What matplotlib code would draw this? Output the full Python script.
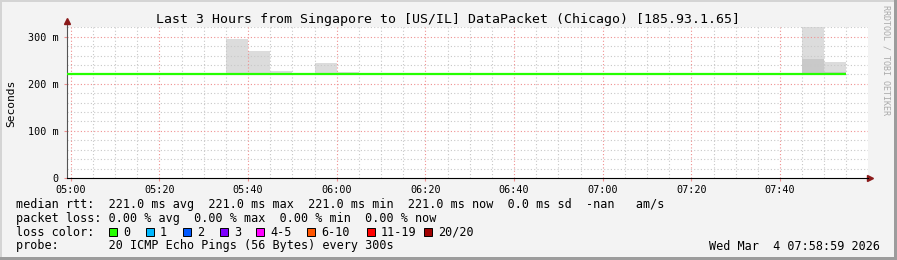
import numpy as np
import matplotlib
matplotlib.use('Agg')
from matplotlib import pyplot as plt
from matplotlib.patches import Rectangle

# time in minutes relative to 05:00
t_start = -0.9
t_end = 179.85
median_end = 175
median_rtt = 221.0

# smoke steps (5 min wide)
smoke_start = [35, 40, 45, 50, 55, 60, 90, 165, 170]
smoke_max = [296, 270, 228, 223, 244, 226, 224, 330, 247]
smoke_mid = [221, 221, 221, 221, 221, 221, 221, 253, 226]

xtick_pos = [0, 20, 40, 60, 80, 100, 120, 140, 160]
xtick_labels = ['05:00', '05:20', '05:40', '06:00', '06:20', '06:40', '07:00', '07:20', '07:40']
ytick_pos = [0, 100, 200, 300]
ytick_labels = ['0', '100 m', '200 m', '300 m']

loss_labels = ['0', '1', '2', '3', '4-5', '6-10', '11-19', '20/20']
loss_colors = ['#26ff00', '#00b8ff', '#0059ff', '#7e00ff', '#ff00ff', '#ff5500', '#ff0000', '#a00000']
loss_box_x = [109, 145.7, 182.7, 220, 256, 307, 366.7, 424]

line_rtt = 'median rtt:  221.0 ms avg  221.0 ms max  221.0 ms min  221.0 ms now  0.0 ms sd  -nan   am/s'
line_loss = 'packet loss: 0.00 % avg  0.00 % max  0.00 % min  0.00 % now'
line_probe = 'probe:       20 ICMP Echo Pings (56 Bytes) every 300s'
date_str = 'Wed Mar  4 07:58:59 2026'
title = 'Last 3 Hours from Singapore to [US/IL] DataPacket (Chicago) [185.93.1.65]'

W, H = 897, 260
MONO = 'DejaVu Sans Mono'
plt.rcParams['font.family'] = MONO


def fx(px):
    return px / W


def fy(py):
    return 1 - py / H


fig = plt.figure(figsize=(W / 100, H / 100), dpi=100, facecolor='#f3f3f3')

# frame
fig.add_artist(Rectangle((0, fy(2)), 1, 2 / H, transform=fig.transFigure, color='#d4d4d4', lw=0))
fig.add_artist(Rectangle((0, 0), fx(2), 1, transform=fig.transFigure, color='#d4d4d4', lw=0))
fig.add_artist(Rectangle((0, 0), 1, 3 / H, transform=fig.transFigure, color='#9c9c9c', lw=0))
fig.add_artist(Rectangle((fx(894), 0), 3 / W, 1, transform=fig.transFigure, color='#9c9c9c', lw=0))

ax = fig.add_axes([fx(66.7), fy(178), fx(868 - 66.7), (178 - 27.3) / H])
ax.set_facecolor('white')
ax.set_xlim(t_start, t_end)
ax.set_ylim(0, 320)

# smoke
ax.bar(smoke_start, np.array(smoke_max) - median_rtt, width=5, bottom=median_rtt,
       align='edge', color='#dcdcdc', lw=0, zorder=1)
ax.bar(smoke_start, np.array(smoke_mid) - median_rtt, width=5, bottom=median_rtt,
       align='edge', color='#c9c9c9', lw=0, zorder=1)

# grid
for x in np.arange(0, 180, 5):
    if x % 20:
        ax.axvline(x, color='#c8c8c8', lw=0.8, ls=(0, (1, 2)), zorder=2)
for y in np.arange(20, 321, 20):
    if y % 100:
        ax.axhline(y, color='#c8c8c8', lw=0.8, ls=(0, (1, 2)), zorder=2)
for x in xtick_pos:
    ax.axvline(x, color='#f09090', lw=0.8, ls=(0, (1, 2)), zorder=2)
for y in ytick_pos[1:]:
    ax.axhline(y, color='#f09090', lw=0.8, ls=(0, (1, 2)), zorder=2)

# median line
ax.hlines(median_rtt, t_start, median_end, color='#26ff00', lw=1.6, zorder=3)

ax.set_xticks(xtick_pos)
ax.set_xticklabels(xtick_labels, fontsize=7.3)
ax.set_yticks(ytick_pos)
ax.set_yticklabels(ytick_labels, fontsize=7.3)
ax.tick_params(axis='x', length=2, color='#f09090', pad=3)
ax.tick_params(axis='y', length=2, color='#f09090', pad=4)
for s in ['top', 'right']:
    ax.spines[s].set_visible(False)
ax.spines['left'].set_color('#555555')
ax.spines['bottom'].set_color('black')
ax.spines['left'].set_linewidth(0.8)
ax.spines['bottom'].set_linewidth(0.8)

# axis arrows
ax.plot([0, 0], [1, 1.04], color='#555555', lw=0.8, transform=ax.transAxes, clip_on=False)
ax.plot([0], [1.04], marker='^', ms=4, color='#8b1a1a', transform=ax.transAxes, clip_on=False)
ax.plot([1.003], [0], marker='>', ms=4, color='#8b1a1a', transform=ax.transAxes, clip_on=False)

fig.text(fx(448), fy(19), title, fontsize=9.5, ha='center', va='center')
fig.text(fx(11), fy(103), 'Seconds', fontsize=8.1, rotation=90, ha='center', va='center')
fig.text(fx(886), fy(5), 'RRDTOOL / TOBI OETIKER', fontsize=6.0, rotation=270,
         ha='center', va='top', color='#aaaaaa')

fig.text(fx(16), fy(204.3), line_rtt, fontsize=8.5, va='center')
fig.text(fx(16), fy(218.3), line_loss, fontsize=8.5, va='center')
fig.text(fx(16), fy(232.3), 'loss color:', fontsize=8.5, va='center')
fig.text(fx(16), fy(246), line_probe, fontsize=8.5, va='center')
fig.text(fx(880), fy(246), date_str, fontsize=8.5, va='center', ha='right')

for lbl, col, bx in zip(loss_labels, loss_colors, loss_box_x):
    fig.add_artist(Rectangle((fx(bx), fy(235.5)), 8 / W, 8 / H, transform=fig.transFigure,
                             facecolor=col, edgecolor='black', lw=0.7))
    fig.text(fx(bx + 14), fy(232.3), lbl, fontsize=8.5, va='center')

fig.savefig('out.png', dpi=100, facecolor=fig.get_facecolor())
